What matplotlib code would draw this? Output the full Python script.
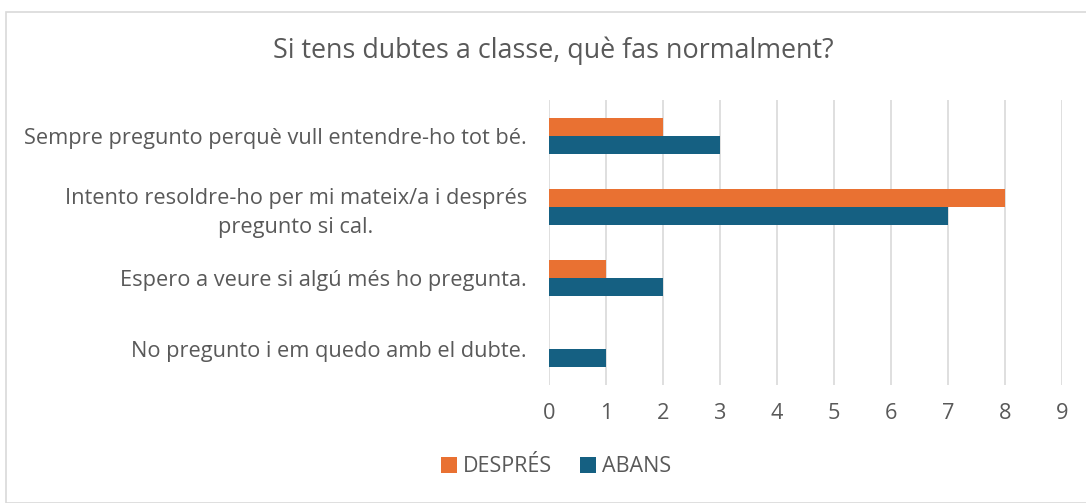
import numpy as np
import matplotlib.pyplot as plt
from matplotlib.patches import Rectangle

categories = [
    "Sempre pregunto perquè vull entendre-ho tot bé.",
    "Intento resoldre-ho per mi mateix/a i després\npregunto si cal.",
    "Espero a veure si algú més ho pregunta.",
    "No pregunto i em quedo amb el dubte.",
]
despres = [2, 8, 1, 0]
abans = [3, 7, 2, 1]
xticks = list(range(0, 10))

orange = "#E97132"
blue = "#156082"
txt = "#595959"

plt.rcParams['font.family'] = ['Open Sans', 'DejaVu Sans']

fig = plt.figure(figsize=(10.86, 5.03), dpi=100)
ax = fig.add_axes([549 / 1086, 1 - 385 / 503, (1062 - 549) / 1086, (385 - 100) / 503])

y = np.arange(len(categories))
h = 0.253
ax.barh(y - h / 2, despres, height=h, color=orange, label="DESPRÉS", zorder=3)
ax.barh(y + h / 2, abans, height=h, color=blue, label="ABANS", zorder=3)

ax.set_ylim(len(categories) - 0.5, -0.5)
ax.set_xlim(0, 9)
ax.set_xticks(xticks)
ax.set_yticks(y)
ax.set_yticklabels(categories, fontsize=15.7, color=txt, ha="right",
                   multialignment="center", linespacing=1.45)
ax.tick_params(axis="both", length=0, colors=txt)
ax.tick_params(axis="x", labelsize=15.7, pad=13)
ax.tick_params(axis="y", pad=16)
ax.grid(axis="x", color="#D9D9D9", linewidth=1.2, zorder=0)
for s in ax.spines.values():
    s.set_visible(False)

fig.text(553 / 1086, 1 - 51 / 503, "Si tens dubtes a classe, què fas normalment?",
         fontsize=19.4, color=txt, ha="center", va="center")

leg = fig.legend(loc="center", bbox_to_anchor=(556 / 1086, 1 - 467 / 503), ncol=2,
                 frameon=False, fontsize=15.5, handlelength=0.75, handleheight=0.75,
                 handletextpad=0.25, columnspacing=1.3)
for t in leg.get_texts():
    t.set_color(txt)

fig.patches.append(Rectangle((5.5 / 1086, 0), 1.1, 1 - 11.5 / 503, transform=fig.transFigure,
                             fill=False, edgecolor="#D9D9D9", linewidth=1.2))

fig.savefig("out.png", dpi=100)
